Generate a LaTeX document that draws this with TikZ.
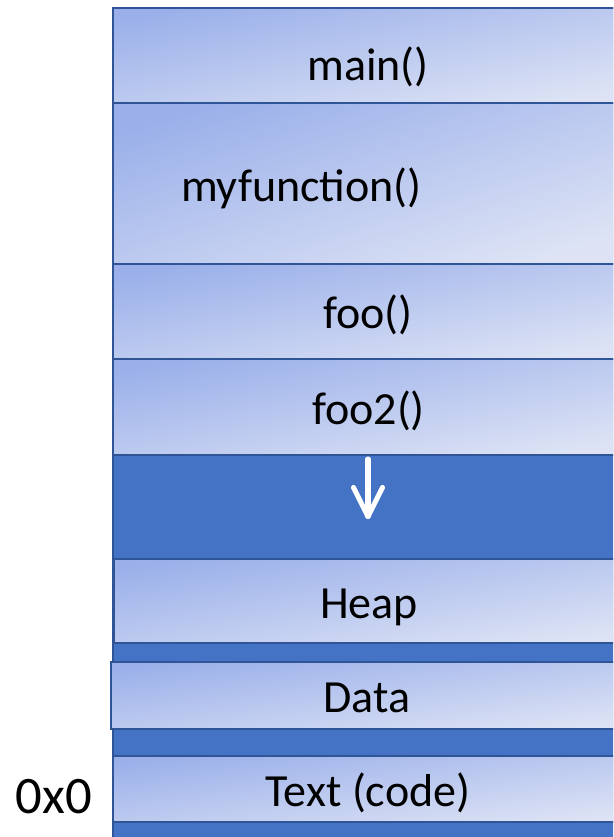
\documentclass[tikz,border=0pt]{standalone}
\usepackage{fontspec}
\setmainfont{Carlito}
\definecolor{segdark}{HTML}{4472C4}
\definecolor{segedge}{HTML}{2F5597}
\definecolor{seglo}{HTML}{9BB0EA}
\definecolor{seghi}{HTML}{DDE3F5}
\tikzset{
  mem/.style={draw=segedge, line width=1.9pt, fill=segdark},
  seg/.style={draw=segedge, line width=1.9pt, top color=seglo, bottom color=seghi, shading angle=#1},
  lbl/.style={inner sep=0pt, anchor=base, font=\fontsize{39.3pt}{40pt}\selectfont},
  addr/.style={inner sep=0pt, anchor=base, font=\fontsize{45pt}{46pt}\selectfont},
  growth/.style={draw=white, line width=4.3pt, line cap=round, line join=round}
}
\begin{document}
\begin{tikzpicture}[x=0.03cm, y=-0.03cm]
\useasboundingbox (0,0) rectangle (613,837);
\clip (0,0) rectangle (613,837);
% whole address space
\draw[mem] (113,8) rectangle (625,850);
% stack frames (gradient runs corner to corner)
\draw[seg=10.5] (113,8) rectangle (625,103);
\draw[seg=17.5] (113,103) rectangle (625,264);
\draw[seg=10.5] (113,264) rectangle (625,359);
\draw[seg=10.6] (113,359) rectangle (625,455);
% heap, data and text segments
\draw[seg=9.3] (114,559) rectangle (625,643);
\draw[seg=7.4] (111,662) rectangle (625,729);
\draw[seg=7.3] (113,756) rectangle (625,822);
% labels
\node[lbl] (main) at (368,80) {main()};
\node[lbl] (myfn) at (301.5,201) {myfunction()};
\node[lbl] (foo) at (368,328) {foo()};
\node[lbl] (foo2) at (368.5,424) {foo2()};
\node[lbl] (heap) at (369,618) {Heap};
\node[lbl] (data) at (367,712) {Data};
\node[lbl] (text) at (368,806) {Text (code)};
\node[addr] (zero) at (54,813) {0x0};
% stack growth arrow
\coordinate (arrtop) at (368,459);
\coordinate (arrtip) at (368,516.5);
\draw[growth] (arrtop) -- (arrtip);
\draw[growth] ([shift={(-14.5,-29)}]arrtip) -- (arrtip) -- ([shift={(14.5,-29)}]arrtip);
\end{tikzpicture}
\end{document}
